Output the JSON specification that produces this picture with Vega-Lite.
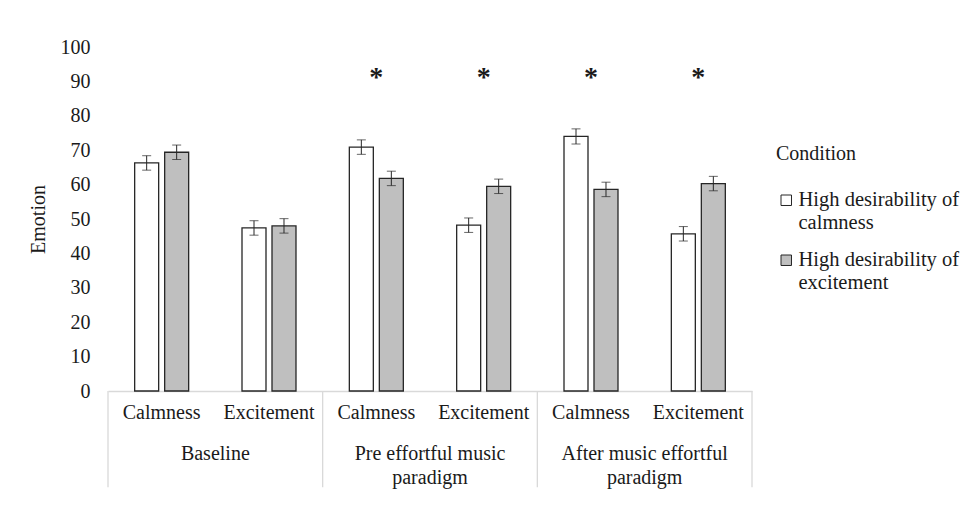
{
  "$schema": "https://vega.github.io/schema/vega-lite/v6.json",
  "width": 644,
  "height": 344,
  "autosize": {"type": "none"},
  "padding": {"left": 108, "top": 47, "right": 217, "bottom": 119},
  "background": "white",
  "config": {
    "font": "Liberation Serif",
    "view": {"stroke": null},
    "axis": {"labelFont": "Liberation Serif", "titleFont": "Liberation Serif", "labelColor": "#1a1a1a", "titleColor": "#1a1a1a"},
    "legend": {"labelFont": "Liberation Serif", "titleFont": "Liberation Serif"}
  },
  "resolve": {"axis": {"x": "independent", "y": "independent"}},
  "datasets": {
    "bars": [
      {"cell": "Baseline|Calmness", "condition": "High desirability of calmness", "mean": 66.3, "lo": 64.2, "hi": 68.4},
      {"cell": "Baseline|Calmness", "condition": "High desirability of excitement", "mean": 69.4, "lo": 67.3, "hi": 71.5},
      {"cell": "Baseline|Excitement", "condition": "High desirability of calmness", "mean": 47.4, "lo": 45.3, "hi": 49.5},
      {"cell": "Baseline|Excitement", "condition": "High desirability of excitement", "mean": 48.0, "lo": 45.9, "hi": 50.1},
      {"cell": "Pre|Calmness", "condition": "High desirability of calmness", "mean": 70.9, "lo": 68.8, "hi": 73.0},
      {"cell": "Pre|Calmness", "condition": "High desirability of excitement", "mean": 61.8, "lo": 59.7, "hi": 63.9},
      {"cell": "Pre|Excitement", "condition": "High desirability of calmness", "mean": 48.2, "lo": 46.1, "hi": 50.3},
      {"cell": "Pre|Excitement", "condition": "High desirability of excitement", "mean": 59.5, "lo": 57.4, "hi": 61.6},
      {"cell": "After|Calmness", "condition": "High desirability of calmness", "mean": 74.0, "lo": 71.8, "hi": 76.2},
      {"cell": "After|Calmness", "condition": "High desirability of excitement", "mean": 58.6, "lo": 56.5, "hi": 60.7},
      {"cell": "After|Excitement", "condition": "High desirability of calmness", "mean": 45.7, "lo": 43.6, "hi": 47.8},
      {"cell": "After|Excitement", "condition": "High desirability of excitement", "mean": 60.3, "lo": 58.2, "hi": 62.4}
    ],
    "stars": [
      {"cell": "Pre|Calmness", "y": 92.5, "t": "*"},
      {"cell": "Pre|Excitement", "y": 92.5, "t": "*"},
      {"cell": "After|Calmness", "y": 92.5, "t": "*"},
      {"cell": "After|Excitement", "y": 92.5, "t": "*"}
    ],
    "groups": [
      {"cell": "Baseline|Excitement", "label": "Baseline", "y": -15.4},
      {"cell": "Pre|Excitement", "label": "Pre effortful music\nparadigm", "y": -15.4},
      {"cell": "After|Excitement", "label": "After music effortful\nparadigm", "y": -15.4}
    ],
    "dividers": [
      {"cell": "Baseline|Calmness", "y": 0, "y2": -28},
      {"cell": "Pre|Calmness", "y": 0, "y2": -28},
      {"cell": "After|Calmness", "y": 0, "y2": -28}
    ],
    "enddivider": [
      {"cell": "After|Excitement", "y": 0, "y2": -28}
    ]
  },
  "layer": [
    {
      "data": {"name": "bars"},
      "mark": {"type": "bar", "stroke": "#262626", "strokeWidth": 1.3},
      "encoding": {
        "x": {
          "field": "cell", "type": "nominal", "sort": null,
          "scale": {"domain": ["Baseline|Calmness", "Baseline|Excitement", "Pre|Calmness", "Pre|Excitement", "After|Calmness", "After|Excitement"], "paddingInner": 0, "paddingOuter": 0},
          "axis": {"title": null, "labelExpr": "split(datum.label, '|')[1]", "labelAngle": 0, "labelFontSize": 20, "labelPadding": 11, "ticks": false, "domainColor": "#d9d9d9", "domainWidth": 1.3}
        },
        "xOffset": {
          "field": "condition", "type": "nominal",
          "scale": {"domain": ["High desirability of calmness", "High desirability of excitement"], "paddingInner": 0.2, "paddingOuter": 0.889}
        },
        "y": {
          "field": "mean", "type": "quantitative",
          "scale": {"domain": [0, 100], "nice": false, "clamp": false},
          "axis": {"title": "Emotion", "titleFontSize": 20, "titleFontWeight": "normal", "titlePadding": 12, "labelFontSize": 20, "labelPadding": 18, "labelOverlap": false, "ticks": false, "domain": false, "grid": false, "values": [0, 10, 20, 30, 40, 50, 60, 70, 80, 90, 100]}
        },
        "fill": {
          "field": "condition", "type": "nominal",
          "scale": {"domain": ["High desirability of calmness", "High desirability of excitement"], "range": ["#ffffff", "#bfbfbf"]},
          "legend": {
            "title": "Condition", "orient": "none", "legendX": 668, "legendY": 97,
            "titleFontSize": 20, "titleFontWeight": "normal", "titleColor": "#1a1a1a", "titlePadding": 26,
            "labelFontSize": 20.5, "labelColor": "#1a1a1a", "labelLimit": 300,
            "labelExpr": "[slice(datum.label, 0, 20), slice(datum.label, 21)]",
            "symbolType": "square", "symbolSize": 110, "symbolStrokeColor": "#262626", "symbolStrokeWidth": 1,
            "rowPadding": 16, "labelOffset": 2
          }
        }
      }
    },
    {
      "data": {"name": "bars"},
      "mark": {"type": "rule", "color": "#262626", "strokeWidth": 1},
      "encoding": {
        "x": {"field": "cell", "type": "nominal", "sort": null, "axis": null},
        "xOffset": {"field": "condition", "type": "nominal"},
        "y": {"field": "lo", "type": "quantitative", "axis": null},
        "y2": {"field": "hi"}
      }
    },
    {
      "data": {"name": "bars"},
      "mark": {"type": "tick", "color": "#262626", "thickness": 1, "size": 9},
      "encoding": {
        "x": {"field": "cell", "type": "nominal", "sort": null, "axis": null},
        "xOffset": {"field": "condition", "type": "nominal"},
        "y": {"field": "lo", "type": "quantitative", "axis": null}
      }
    },
    {
      "data": {"name": "bars"},
      "mark": {"type": "tick", "color": "#262626", "thickness": 1, "size": 9},
      "encoding": {
        "x": {"field": "cell", "type": "nominal", "sort": null, "axis": null},
        "xOffset": {"field": "condition", "type": "nominal"},
        "y": {"field": "hi", "type": "quantitative", "axis": null}
      }
    },
    {
      "data": {"name": "stars"},
      "mark": {"type": "text", "fontSize": 28, "fontWeight": "bold", "baseline": "middle", "dy": 5, "color": "#1a1a1a"},
      "encoding": {
        "x": {"field": "cell", "type": "nominal", "sort": null, "axis": null},
        "y": {"field": "y", "type": "quantitative", "axis": null},
        "text": {"field": "t"}
      }
    },
    {
      "data": {"name": "groups"},
      "mark": {"type": "text", "fontSize": 20, "baseline": "top", "align": "center", "lineBreak": "\n", "lineHeight": 24, "color": "#1a1a1a"},
      "encoding": {
        "x": {"field": "cell", "type": "nominal", "sort": null, "bandPosition": 0, "axis": null},
        "y": {"field": "y", "type": "quantitative", "axis": null},
        "text": {"field": "label"}
      }
    },
    {
      "data": {"name": "dividers"},
      "mark": {"type": "rule", "color": "#d9d9d9", "strokeWidth": 1.3},
      "encoding": {
        "x": {"field": "cell", "type": "nominal", "sort": null, "bandPosition": 0, "axis": null},
        "y": {"field": "y", "type": "quantitative", "axis": null},
        "y2": {"field": "y2"}
      }
    },
    {
      "data": {"name": "enddivider"},
      "mark": {"type": "rule", "color": "#d9d9d9", "strokeWidth": 1.3},
      "encoding": {
        "x": {"field": "cell", "type": "nominal", "sort": null, "bandPosition": 1, "axis": null},
        "y": {"field": "y", "type": "quantitative", "axis": null},
        "y2": {"field": "y2"}
      }
    }
  ]
}
